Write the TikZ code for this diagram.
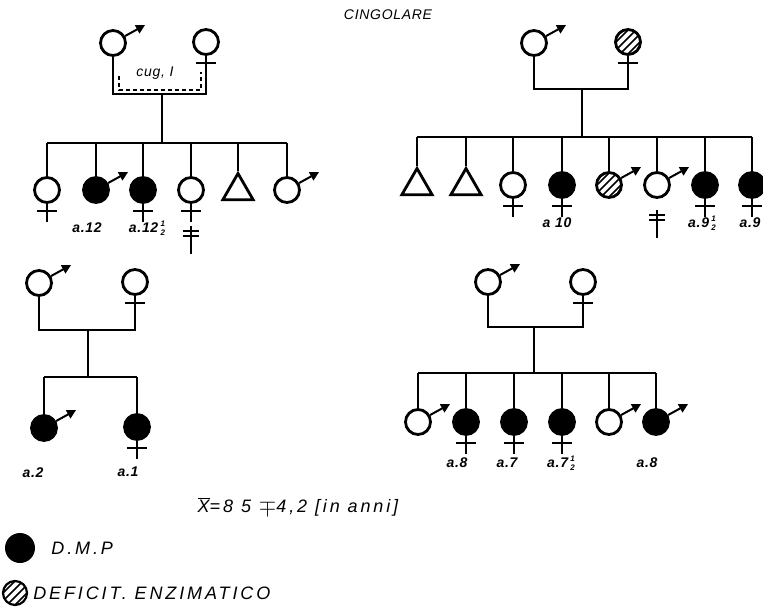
\documentclass[tikz,border=0pt]{standalone}
\usepackage{fontspec}
\newfontfamily\lett[LetterSpace=5]{Liberation Sans}
\newfontfamily\legf[LetterSpace=16]{Liberation Sans}
\newcommand\halfmark{\raisebox{-3pt}{\shortstack{\fontsize{8pt}{7pt}\selectfont 1\\\fontsize{8pt}{7pt}\selectfont 2}}}
\usepackage{tikz}
\usetikzlibrary{arrows.meta,shapes.geometric,positioning}

\begin{document}
\begin{tikzpicture}[auto,
	person/.style={circle, draw, line width=2.8pt, minimum size=25pt, inner sep=0pt},
	sexline/.style={draw, line width=1.6pt},
	maleline/.style={draw, line width=2pt, -{Triangle[length=9pt,width=9pt]}},
	male/.style={person, append after command={(\tikzlastnode.30) edge [maleline] ++(20pt,11pt)}},
	female/.style={person, append after command={(\tikzlastnode.south) edge [sexline] ++(0pt,-18pt)
		([shift={(-10pt,-7pt)}]\tikzlastnode.south) edge [sexline] ++(20pt,0pt)}},
	dmp/.style={fill=black},
	hatched/.style={path picture={\foreach \d in {-12,-4,4,12}
		\draw [line width=1.7pt] ([shift={(\d pt-15pt,-15pt)}]path picture bounding box.center) -- ++(30pt,30pt);}},
	unknown/.style={regular polygon, regular polygon sides=3, draw, line width=2.8pt, minimum size=35pt, inner sep=0pt},
	kin/.style={line width=1.5pt},
	dead/.pic={\draw [line width=1.5pt] (0pt,7pt) -- (0pt,-21pt) (-8pt,2pt) -- (8pt,2pt) (-8pt,-3pt) -- (8pt,-3pt);},
	lbl/.style={font=\lett\bfseries\itshape\fontsize{14pt}{14pt}\selectfont, inner sep=1pt},
	hd/.style={font=\lett\itshape\fontsize{14pt}{14pt}\selectfont},
	leg/.style={font=\legf\itshape\fontsize{18pt}{18pt}\selectfont, inner sep=0pt}]
	\useasboundingbox (0pt,0pt) rectangle (763pt,-615pt);
	\node [hd] (t0) at (388pt,-15pt) {CINGOLARE};

	% first family
	\node [male] (f1) at (113pt,-43pt) {};
	\node [female] (m1) at (206pt,-42pt) {};
	\coordinate (u1) at (162pt,-94pt);
	\coordinate (s1) at (162pt,-143pt);
	\draw [kin] (f1) |- (u1) -| (m1);
	\draw [dash pattern=on 4pt off 3pt, line width=1.1pt] (119pt,-76pt) |- (201pt,-90pt) -- (201pt,-72pt);
	\node [lbl, font=\lett\itshape\fontsize{14pt}{14pt}\selectfont] (cug) at (155pt,-73pt) {cug, I};
	\draw [kin] (u1) -- (s1);
	\node [female] (c11) at (47pt,-190pt) {};
	\node [male, dmp] (c12) at (96pt,-190pt) {};
	\node [female, dmp] (c13) at (143pt,-190pt) {};
	\node [female] (c14) at (191pt,-190pt) {};
	\node [unknown] (c15) at (238pt,-191pt) {};
	\node [male] (c16) at (287pt,-190pt) {};
	\draw [kin] (c11 |- s1) -- (c16 |- s1);
	\foreach \i in {11,...,16}
		\draw [kin] (c\i |- s1) -- (c\i);
	\node [lbl] (l12) at (87pt,-228pt) {a.12};
	\node [lbl] (l13) at (147pt,-228pt) {a.12\,\halfmark};
	\pic at (191pt,-233pt) {dead};

	% second family
	\node [male] (f2) at (534pt,-43pt) {};
	\node [female, hatched] (m2) at (628pt,-42pt) {};
	\coordinate (u2) at (582pt,-89pt);
	\coordinate (s2) at (582pt,-137pt);
	\draw [kin] (f2) |- (u2) -| (m2);
	\draw [kin] (u2) -- (s2);
	\node [unknown] (c21) at (417pt,-186pt) {};
	\node [unknown] (c22) at (466pt,-186pt) {};
	\node [female] (c23) at (513pt,-185pt) {};
	\node [female, dmp] (c24) at (562pt,-185pt) {};
	\node [male, hatched] (c25) at (609pt,-185pt) {};
	\node [male] (c26) at (657pt,-185pt) {};
	\node [female, dmp] (c27) at (705pt,-185pt) {};
	\node [female, dmp] (c28) at (752pt,-185pt) {};
	\draw [kin] (c21 |- s2) -- (c28 |- s2);
	\foreach \i in {21,...,28}
		\draw [kin] (c\i |- s2) -- (c\i);
	\node [lbl] (l24) at (557pt,-223pt) {a 10};
	\node [lbl] (l27) at (702pt,-223pt) {a.9\,\halfmark};
	\node [lbl] (l28) at (750pt,-223pt) {a.9};
	\pic at (657pt,-217pt) {dead};

	% third family
	\node [male] (f3) at (39pt,-283pt) {};
	\node [female] (m3) at (135pt,-282pt) {};
	\coordinate (u3) at (88pt,-330pt);
	\coordinate (s3) at (88pt,-377pt);
	\draw [kin] (f3) |- (u3) -| (m3);
	\draw [kin] (u3) -- (s3);
	\node [male, dmp] (c31) at (44pt,-428pt) {};
	\node [female, dmp] (c32) at (137pt,-427pt) {};
	\draw [kin] (c31 |- s3) -- (c32 |- s3);
	\foreach \i in {31,32}
		\draw [kin] (c\i |- s3) -- (c\i);
	\node [lbl] (l31) at (33pt,-473pt) {a.2};
	\node [lbl] (l32) at (128pt,-472pt) {a.1};

	% fourth family
	\node [male] (f4) at (488pt,-282pt) {};
	\node [female] (m4) at (583pt,-282pt) {};
	\coordinate (u4) at (534pt,-327pt);
	\coordinate (s4) at (534pt,-373pt);
	\draw [kin] (f4) |- (u4) -| (m4);
	\draw [kin] (u4) -- (s4);
	\node [male] (c41) at (418pt,-422pt) {};
	\node [female, dmp] (c42) at (466pt,-422pt) {};
	\node [female, dmp] (c43) at (514pt,-422pt) {};
	\node [female, dmp] (c44) at (562pt,-422pt) {};
	\node [male] (c45) at (609pt,-422pt) {};
	\node [male, dmp] (c46) at (656pt,-422pt) {};
	\draw [kin] (c41 |- s4) -- (c46 |- s4);
	\foreach \i in {41,...,46}
		\draw [kin] (c\i |- s4) -- (c\i);
	\node [lbl] (l42) at (457pt,-463pt) {a.8};
	\node [lbl] (l43) at (507pt,-463pt) {a.7};
	\node [lbl] (l44) at (561pt,-463pt) {a.7\,\halfmark};
	\node [lbl] (l46) at (647pt,-463pt) {a.8};

	\node [leg] (mean) at (298pt,-507pt) {\ensuremath{\overline{\hbox{X}}}=8 5 \raisebox{-1pt}{\scalebox{1.3}{$\mp$}}4,2 [in anni]};

	% legend
	\node [circle, dmp, minimum size=30pt, inner sep=0pt] (k1) at (20pt,-548pt) {};
	\node [leg, right=16pt of k1] (k1t) {D.M.P};
	\node [person, hatched, line width=2.2pt, minimum size=24pt] (k2) at (15pt,-593pt) {};
	\node [leg, right=5pt of k2] (k2t) {DEFICIT.\ ENZIMATICO};
\end{tikzpicture}
\end{document}
